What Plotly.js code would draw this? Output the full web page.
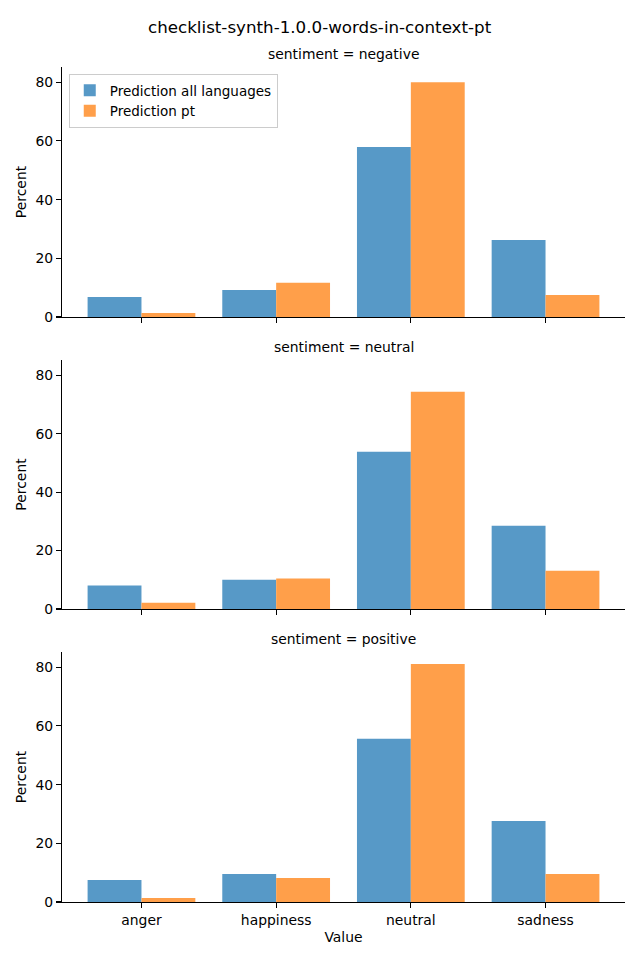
<!DOCTYPE html>
<html>
<head>
<meta charset="utf-8">
<script src="https://cdn.plot.ly/plotly-3.0.1.min.js"></script>
<style>html,body{margin:0;padding:0;background:#fff;}#chart{width:640px;height:960px;}</style>
</head>
<body>
<div id="chart"></div>
<script>
const categories = ["anger", "happiness", "neutral", "sadness"];
const sentiments = ["negative", "neutral", "positive"];
const seriesNames = ["Prediction all languages", "Prediction pt"];
const allLanguages = {
  negative: [6.8, 9.2, 57.9, 26.2],
  neutral:  [8.0, 10.0, 53.8, 28.5],
  positive: [7.5, 9.5, 55.6, 27.6]
};
const predictionPt = {
  negative: [1.4, 11.7, 80.0, 7.5],
  neutral:  [2.15, 10.4, 74.3, 13.1],
  positive: [1.4, 8.2, 81.1, 9.5]
};
const yTicks = [0, 20, 40, 60, 80];

const FONT = "DejaVu Sans, sans-serif";
const FS = 13.9;
const colors = ["#5799c7", "#ff9f4a"];
const H = 960;
const panels = [[67, 317], [360, 609], [652, 902]];

const traces = [];
sentiments.forEach((s, i) => {
  const ax = i === 0 ? "" : String(i + 1);
  [allLanguages[s], predictionPt[s]].forEach((vals, k) => {
    traces.push({
      type: "bar",
      x: categories,
      y: vals,
      name: seriesNames[k],
      legendgroup: seriesNames[k],
      showlegend: i === 0,
      marker: {color: colors[k], line: {width: 0}},
      xaxis: "x" + ax,
      yaxis: "y" + ax,
      hoverinfo: "skip"
    });
  });
});

const layout = {
  width: 640, height: 960,
  margin: {l: 62, r: 15, t: 0, b: 0},
  paper_bgcolor: "#fff", plot_bgcolor: "#fff",
  font: {family: FONT, size: FS, color: "#000"},
  barmode: "group", bargap: 0.2, bargroupgap: 0,
  showlegend: true,
  legend: {
    x: 0.012, y: 1 - 74 / H, xanchor: "left", yanchor: "top",
    bgcolor: "rgba(255,255,255,0.8)", bordercolor: "#cccccc", borderwidth: 1,
    font: {family: FONT, size: 13.5}, tracegroupgap: 0
  },
  annotations: [
    {text: "checklist-synth-1.0.0-words-in-context-pt", xref: "paper", yref: "paper",
     x: (320 - 62) / 563, y: 1 - 27 / H, xanchor: "center", yanchor: "middle",
     showarrow: false, font: {family: FONT, size: 16.7}}
  ]
};

sentiments.forEach((s, i) => {
  const ax = i === 0 ? "" : String(i + 1);
  const [top, bot] = panels[i];
  layout["xaxis" + ax] = {
    domain: [0, 1], anchor: "y" + ax,
    type: "category", categoryorder: "array", categoryarray: categories,
    range: [-0.59, 3.59],
    showline: true, linecolor: "#000", linewidth: 1.1,
    ticks: "outside", ticklen: 5, tickcolor: "#000", tickwidth: 1.1,
    showticklabels: i === 2, showgrid: false, zeroline: false,
    tickfont: {family: FONT, size: FS},
    title: i === 2 ? {text: "Value", font: {family: FONT, size: FS}, standoff: 5} : {text: ""}
  };
  layout["yaxis" + ax] = {
    domain: [1 - bot / H, 1 - top / H], anchor: "x" + ax,
    range: [0, 85.2], tickvals: yTicks, ticktext: yTicks.map(String),
    showline: true, linecolor: "#000", linewidth: 1.1,
    ticks: "outside", ticklen: 5, tickcolor: "#000", tickwidth: 1.1,
    showgrid: false, zeroline: false,
    tickfont: {family: FONT, size: FS},
    title: {text: "Percent", font: {family: FONT, size: FS}, standoff: 5}
  };
  layout.annotations.push({
    text: "sentiment = " + s, xref: "paper", yref: "paper",
    x: 0.5, y: 1 - (top - 13) / H, xanchor: "center", yanchor: "middle",
    showarrow: false, font: {family: FONT, size: FS}
  });
});

Plotly.newPlot("chart", traces, layout, {displayModeBar: false, staticPlot: true});
</script>
</body>
</html>
